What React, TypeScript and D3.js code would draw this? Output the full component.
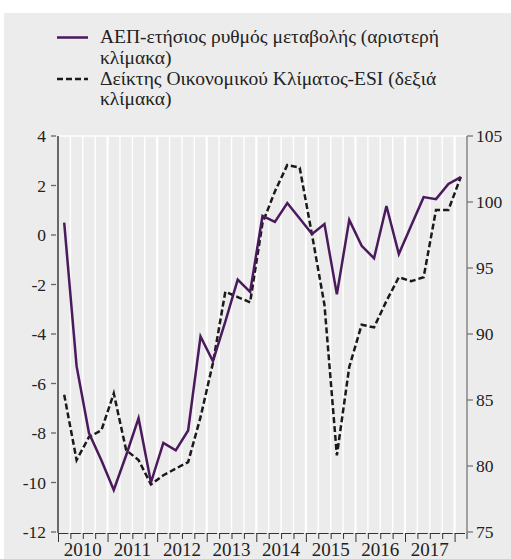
import React from 'react';
import * as d3 from 'd3';

// quarterly data, 2010Q1 - 2018Q1
const quarters = d3.range(33).map((i) => `${2010 + Math.floor(i / 4)}Q${(i % 4) + 1}`);
const gdp = [
  0.5, -5.3, -8.0, -9.1, -10.3, -8.9, -7.4, -10.0, -8.4, -8.7, -7.9,
  -4.1, -5.1, -3.5, -1.8, -2.3, 0.77, 0.53, 1.29, 0.67, 0.04, 0.44,
  -2.4, 0.61, -0.44, -0.94, 1.17, -0.77, 0.38, 1.53, 1.45, 2.06, 2.34,
];
const esi = [
  85.4, 80.45, 82.2, 82.7, 85.5, 81.2, 80.45, 78.6, 79.3, 79.8, 80.3,
  83.7, 87.8, 93.2, 92.8, 92.4, 98.4, 100.8, 102.8, 102.6, 97.5, 92.2,
  80.8, 87.5, 90.7, 90.5, 92.5, 94.3, 94.0, 94.3, 99.4, 99.4, 101.9,
];
const years = ['2010', '2011', '2012', '2013', '2014', '2015', '2016', '2017'];
const leftTicks = [4, 2, 0, -2, -4, -6, -8, -10, -12];
const rightTicks = [105, 100, 95, 90, 85, 80, 75];
const legendItems = [
  { lines: ['ΑΕΠ-ετήσιος ρυθμός μεταβολής (αριστερή', 'κλίμακα)'], color: '#4a1a5c', dash: null },
  { lines: ['Δείκτης Οικονομικού Κλίματος-ESI (δεξιά', 'κλίμακα)'], color: '#1a1a1a', dash: '6,3' },
];

const font = 'Liberation Serif, DejaVu Serif, serif';

export default function App() {
  const width = 511;
  const height = 559;
  const left = 58;
  const right = 467;
  const top = 136;
  const bottom = 532;

  const x = d3.scaleBand().domain(quarters).range([left, right]).padding(0);
  const bw = x.bandwidth();
  const cx = (q: string) => (x(q) as number) + bw / 2;
  const yL = d3.scaleLinear().domain([-12, 4]).range([bottom, top]);
  const yR = d3.scaleLinear().domain([75, 105]).range([bottom, top]);

  const gdpLine = d3
    .line<number>()
    .x((_, i) => cx(quarters[i]))
    .y((d) => yL(d))(gdp) as string;
  const esiLine = d3
    .line<number>()
    .x((_, i) => cx(quarters[i]))
    .y((d) => yR(d))(esi) as string;

  // band boundaries
  const bounds = d3.range(quarters.length + 1).map((k) => left + k * bw);

  return (
    <svg
      width={width}
      height={height}
      fontFamily={font}
      style={{ position: 'absolute', left: 0, top: 0 }}
    >
      <rect x={4} y={13} width={width - 4} height={height - 13} fill="#ececec" />

      {/* legend */}
      {legendItems.map((item, i) => {
        const ly = 37.5 + i * 41.5;
        return (
          <g key={i}>
            <line
              x1={57}
              x2={88}
              y1={ly}
              y2={ly}
              stroke={item.color}
              strokeWidth={2.5}
              strokeDasharray={item.dash ?? undefined}
            />
            {item.lines.map((t, j) => (
              <text key={j} x={100} y={ly + 5.5 + j * 20.7} fontSize={19.5} fill="#222">
                {t}
              </text>
            ))}
          </g>
        );
      })}

      {/* vertical grid */}
      {bounds.slice(1, -1).map((b, k) => (
        <line
          key={k}
          x1={b}
          x2={b}
          y1={top}
          y2={bottom + 1}
          stroke="#fff"
          strokeWidth={(k + 1) % 4 === 0 ? 2.2 : 1.4}
        />
      ))}
      <line x1={left} x2={right} y1={top} y2={top} stroke="#fff" strokeWidth={1.5} />

      {/* x axis */}
      {bounds.slice(0, -1).map((b, k) => (
        <g key={k}>
          <line x1={b} x2={bounds[k + 1] - 2} y1={bottom + 1.5} y2={bottom + 1.5} stroke="#333" strokeWidth={1} />
          <line x1={b + 0.5} x2={b + 0.5} y1={bottom + 1} y2={bottom + (k % 4 === 0 ? 10 : 7)} stroke="#333" strokeWidth={1} />
        </g>
      ))}
      <line x1={right} x2={right} y1={bottom + 1} y2={bottom + 7} stroke="#333" strokeWidth={1} />
      {years.map((yr, i) => (
        <text
          key={yr}
          x={cx(quarters[i * 4 + 1]) + bw / 2}
          y={556}
          fontSize={19}
          textAnchor="middle"
          fill="#222"
        >
          {yr}
        </text>
      ))}

      {/* left axis */}
      <line x1={left} x2={left} y1={top} y2={bottom + 1} stroke="#222" strokeWidth={1.3} />
      {leftTicks.map((t) => (
        <g key={t}>
          <line x1={51} x2={56} y1={yL(t)} y2={yL(t)} stroke="#666" strokeWidth={1.3} />
          <text x={46} y={yL(t)} dy="0.35em" fontSize={17.5} textAnchor="end" fill="#222">
            {t}
          </text>
        </g>
      ))}

      {/* right axis */}
      <line x1={right} x2={right} y1={top} y2={bottom + 1} stroke="#777" strokeWidth={1.3} />
      {rightTicks.map((t) => (
        <g key={t}>
          <line x1={right} x2={right + 6} y1={yR(t)} y2={yR(t)} stroke="#777" strokeWidth={1.3} />
          <text x={right + 9} y={yR(t)} dy="0.35em" fontSize={17.5} fill="#222">
            {t}
          </text>
        </g>
      ))}

      {/* series */}
      <path d={esiLine} fill="none" stroke="#1a1a1a" strokeWidth={2.5} strokeDasharray="6,3" />
      <path d={gdpLine} fill="none" stroke="#4a1a5c" strokeWidth={2.5} strokeLinejoin="miter" />
    </svg>
  );
}
